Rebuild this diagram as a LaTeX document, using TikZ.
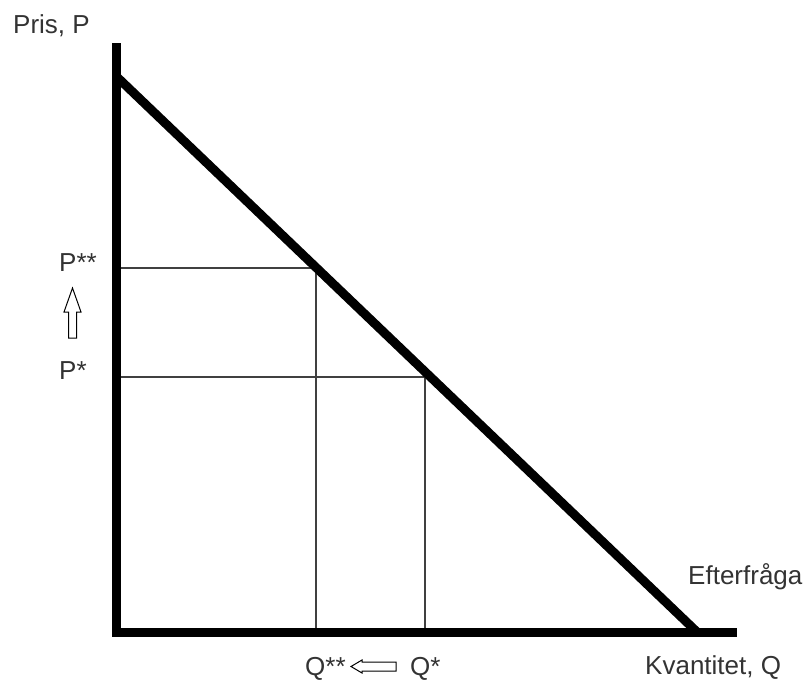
\documentclass[tikz,border=0pt]{standalone}
\usepackage{fontspec}
\setmainfont{Liberation Sans}
\begin{document}
\begin{tikzpicture}[x=1pt,y=-1pt,
  thickline/.style={line width=9pt},
  thinline/.style={line width=1.6pt, black!75},
  hollow/.style={draw=black, line width=1pt, fill=white, line join=miter},
  lbl/.style={anchor=base west, inner sep=0pt, text=black!80, font=\fontsize{26}{30}\selectfont}]
\useasboundingbox (0,0) rectangle (809,680);
% key points
\coordinate (O) at (116,632);
\coordinate (ytop) at (116,43);
\coordinate (ybot) at (116,637);
\coordinate (xl) at (112,632);
\coordinate (xr) at (737,632);
\coordinate (dA) at (117,77);
\coordinate (dB) at (697,632);
\coordinate (Pss) at (120,268);
\coordinate (Ess) at (316,268);
\coordinate (Qss) at (316,628);
\coordinate (Ps) at (120,377);
\coordinate (Es) at (425,377);
\coordinate (Qs) at (425,628);
% thin guide lines
\draw[thinline] (Pss) -- (Ess) -- (Qss);
\draw[thinline] (Ps) -- (Es) -- (Qs);
% axes and demand
\draw[thickline] (ytop) -- (ybot);
\draw[thickline] (xl) -- (xr);
\draw[thickline, line cap=butt] (dA) -- (dB);
% labels
\node[lbl] (pris) at (13,33) {Pris, P};
\node[lbl] (pss) at (59,271) {P**};
\node[lbl] (ps) at (59,379) {P*};
\node[lbl] (qss) at (305,675) {Q**};
\node[lbl] (qs) at (410,675) {Q*};
\node[lbl] (eft) at (688,584) {Efterfråga};
\node[lbl] (kv) at (645,674) {Kvantitet, Q};
% hollow arrows
\draw[hollow] (72.5,288) -- (81,312) -- (76.5,312) -- (76.5,338) -- (68.5,338) -- (68.5,312) -- (64,312) -- cycle;
\draw[hollow] (351,666.5) -- (362,660) -- (362,662) -- (396,662) -- (396,671) -- (362,671) -- (362,673) -- cycle;
\end{tikzpicture}
\end{document}
